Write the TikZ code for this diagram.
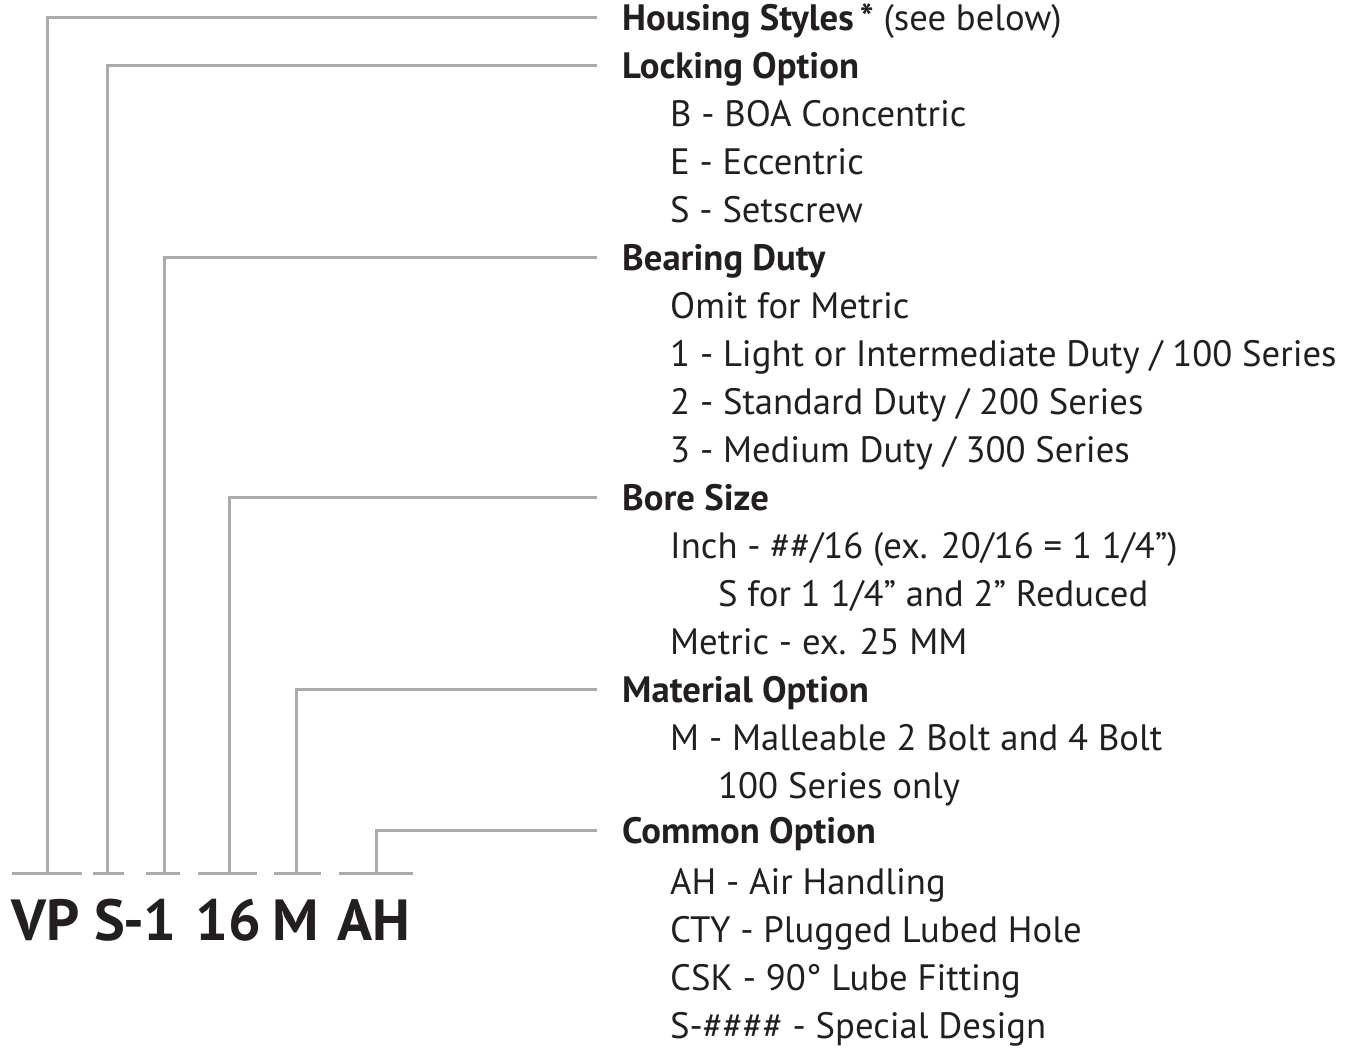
\documentclass[tikz,border=0pt]{standalone}
\usepackage{fontspec}
\setmainfont{PT Sans}
\usepackage{tikz}
\usetikzlibrary{positioning, calc}

\definecolor{leadgray}{HTML}{ABABAB}
\definecolor{inkblack}{HTML}{231F20}

\tikzset{
  lead/.style={draw=leadgray, line width=3pt},
  row/.style={anchor=west, inner xsep=0pt, inner ysep=0pt, text height=26pt, text depth=0pt,
    text=inkblack, font=\fontsize{36.7}{48}\selectfont},
  heading/.style={row, inner xsep=25pt, font=\fontsize{36.7}{48}\selectfont\bfseries},
  codepart/.style={anchor=base west, inner sep=0pt, text=inkblack,
    font=\fontsize{58}{58}\selectfont\bfseries},
}

\begin{document}
\begin{tikzpicture}[x=1pt, y=-1pt]
    \useasboundingbox (0,0) rectangle (1351,1047);

    % part number
    \node[codepart] (cVP) at (11,940) {VP};
    \node[codepart] (cS)  at (94,940) {S};
    \node[codepart, anchor=base east] (cDu) at (177,940) {-1};
    \node[codepart] (cBo) at (195,940) {16};
    \node[codepart] (cMa) at (272,940) {M};
    \node[codepart] (cCo) at (337,940) {AH};

    % ticks under the part number
    \coordinate (tVP) at (47,873);
    \coordinate (tS)  at (107,873);
    \coordinate (tDu) at (164,873);
    \coordinate (tBo) at (229,873);
    \coordinate (tMa) at (296,873);
    \coordinate (tCo) at (376,873);
    \draw[lead] (12,873) -- (82,873);
    \draw[lead] (93,873) -- (124,873);
    \draw[lead] (146,873) -- (180,873);
    \draw[lead] (198,873) -- (257,873);
    \draw[lead] (274,873) -- (321,873);
    \draw[lead] (339,873) -- (413,873);

    % headings
    \node[heading] (hHousing)  at (597,17)  {Housing Styles\,*\mdseries\ (see below)};
    \node[heading] (hLocking)  at (597,65)  {Locking Option};
    \node[heading] (hBearing)  at (597,257) {Bearing Duty};
    \node[heading] (hBore)     at (597,497) {Bore Size};
    \node[heading] (hMaterial) at (597,689) {Material Option};
    \node[heading] (hCommon)   at (597,830) {Common Option};

    % options
    \node[row] at (670,113) {B - BOA Concentric};
    \node[row] at (670,161) {E - Eccentric};
    \node[row] at (670,209) {S - Setscrew};
    \node[row] at (670,305) {Omit for Metric};
    \node[row] at (670,353) {1 - Light or Intermediate Duty / 100 Series};
    \node[row] at (670,401) {2 - Standard Duty / 200 Series};
    \node[row] at (670,449) {3 - Medium Duty / 300 Series};
    \node[row] at (670,545) {Inch - \#\#/16 (ex. 20/16 = 1 1/4”)};
    \node[row] at (718,593) {S for 1 1/4” and 2” Reduced};
    \node[row] at (670,641) {Metric - ex. 25 MM};
    \node[row] at (670,737) {M - Malleable 2 Bolt and 4 Bolt};
    \node[row] at (718,785) {100 Series only};
    \node[row] at (670,881) {AH - Air Handling};
    \node[row] at (670,929) {CTY - Plugged Lubed Hole};
    \node[row] at (670,977) {CSK - 90° Lube Fitting};
    \node[row] at (670,1025) {S-\#\#\#\# - Special Design};

    % leaders
    \draw[lead] (hHousing.west)  -| (tVP);
    \draw[lead] (hLocking.west)  -| (tS);
    \draw[lead] (hBearing.west)  -| (tDu);
    \draw[lead] (hBore.west)     -| (tBo);
    \draw[lead] (hMaterial.west) -| (tMa);
    \draw[lead] (hCommon.west)   -| (tCo);

\end{tikzpicture}
\end{document}
